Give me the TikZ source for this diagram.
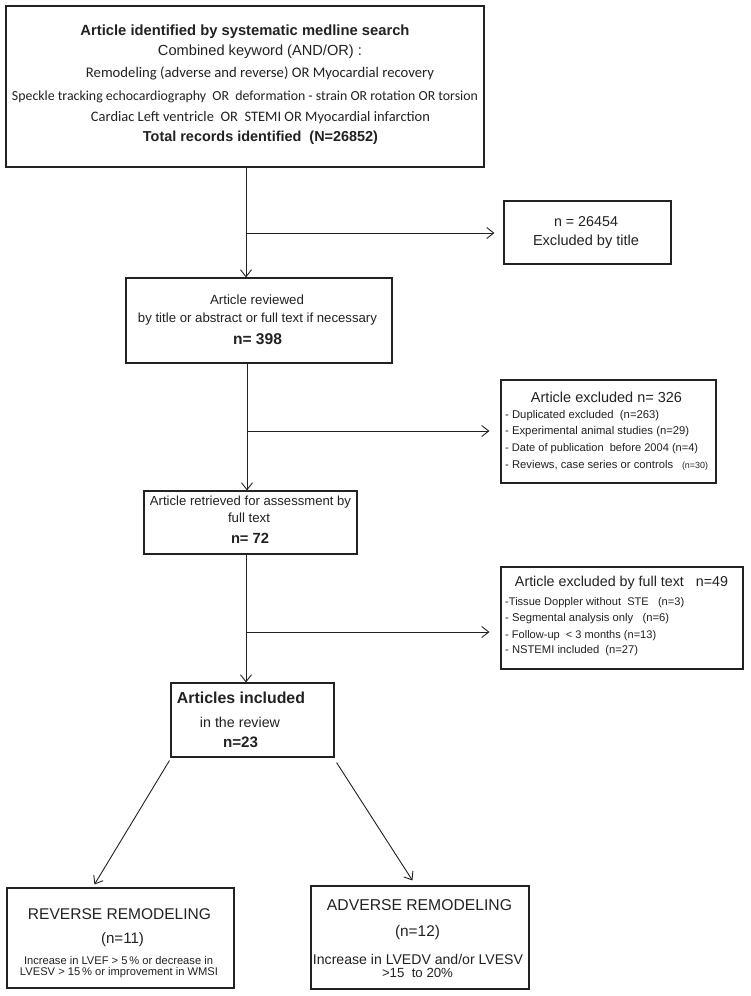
\documentclass[tikz,border=0pt]{standalone}
\usepackage{fontspec}
\usepackage{graphicx}
\setmainfont{Liberation Sans}
\newfontfamily\calib{Carlito}
\usetikzlibrary{arrows.meta}
\newcommand\fitw[2]{\resizebox{#1pt}{!}{#2}}
\definecolor{ink}{HTML}{222222}
\tikzset{
  box/.style={draw=ink, line width=1.1pt, rectangle, inner sep=0pt},
  txt/.style={inner sep=0pt, text=ink},
  arr/.style={draw=ink, line width=0.9pt, -{Straight Barb[length=7pt,width=11pt,line width=0.9pt]}},
}
\begin{document}
\begin{tikzpicture}[x=1pt,y=-1pt]
\useasboundingbox[fill=white] (0,0) rectangle (750,996);

% boxes
\node[box, minimum width=478pt, minimum height=161pt] (top) at (245,86.5) {};
\node[box, minimum width=167pt, minimum height=63pt] (excl1) at (587.5,232.5) {};
\node[box, minimum width=266pt, minimum height=85pt] (rev) at (259,320.5) {};
\node[box, minimum width=215pt, minimum height=103pt] (excl2) at (608.5,431.5) {};
\node[box, minimum width=213pt, minimum height=63pt] (retr) at (250.5,522.5) {};
\node[box, minimum width=242pt, minimum height=102pt] (excl3) at (622,618) {};
\node[box, minimum width=163pt, minimum height=74pt] (incl) at (252.5,720) {};
\node[box, minimum width=227pt, minimum height=100pt] (revrem) at (120.5,938) {};
\node[box, minimum width=218pt, minimum height=103pt] (advrem) at (420,937.5) {};

% top box text
\node[txt] (t1a) at (245,32) {\fitw{329}{\bfseries Article identified by systematic medline search}};
\node[txt] (t1b) at (260,52) {\fitw{204}{Combined keyword (AND/OR) :}};
\node[txt] (t1c) at (260,73) {\fitw{348}{\calib Remodeling (adverse and reverse) OR Myocardial recovery}};
\node[txt] (t1d) at (245,97) {\fitw{466}{\calib Speckle tracking echocardiography\ \ OR\ \ deformation - strain OR rotation OR torsion}};
\node[txt] (t1e) at (260.5,118) {\fitw{339}{\calib Cardiac Left ventricle\ \ OR\ \ STEMI OR Myocardial infarction}};
\node[txt] (t1f) at (260.5,138) {\fitw{235}{\bfseries Total records identified\ \ (N=26852)}};

% excluded by title
\node[txt] (t2a) at (586,222) {\fitw{64}{n = 26454}};
\node[txt] (t2b) at (586,242) {\fitw{106}{Excluded by title}};

% reviewed
\node[txt] (t3a) at (257,300) {\fitw{94}{Article reviewed}};
\node[txt] (t3b) at (257.5,319) {\fitw{239}{by title or abstract or full text if necessary}};
\node[txt] (t3c) at (257.5,339) {\fitw{49}{\bfseries n= 398}};

% excluded 326
\node[txt] (t4a) at (606.5,397) {\fitw{151}{Article excluded n= 326}};
\node[txt, anchor=west] (t4b) at (505,416) {\fitw{154}{- Duplicated excluded\ \ (n=263)}};
\node[txt, anchor=west] (t4c) at (505,432) {\fitw{184}{- Experimental animal studies (n=29)}};
\node[txt, anchor=west] (t4d) at (505,449) {\fitw{193}{- Date of publication\ \ before 2004 (n=4)}};
\node[txt, anchor=west] (t4e) at (505,465) {\fitw{168}{- Reviews, case series or controls}};
\node[txt] (t4f) at (695,466) {\fitw{26}{(n=30)}};

% retrieved
\node[txt] (t5a) at (250.5,502) {\fitw{201}{Article retrieved for assessment by}};
\node[txt] (t5b) at (249,518) {\fitw{42}{full text}};
\node[txt] (t5c) at (250,538) {\fitw{38}{\bfseries n= 72}};

% excluded by full text
\node[txt] (t6a) at (621.5,583) {\fitw{213}{Article excluded by full text\ \ \ n=49}};
\node[txt, anchor=west] (t6b) at (505,603) {\fitw{179}{-Tissue Doppler without\ \ STE\ \ \ (n=3)}};
\node[txt, anchor=west] (t6c) at (505,619) {\fitw{164}{- Segmental analysis only\ \ \ (n=6)}};
\node[txt, anchor=west] (t6d) at (505,636) {\fitw{151}{- Follow-up\ \ < 3 months (n=13)}};
\node[txt, anchor=west] (t6e) at (505,651) {\fitw{133}{- NSTEMI included\ \ (n=27)}};

% included
\node[txt] (t7a) at (241,698) {\fitw{128}{\bfseries Articles included}};
\node[txt] (t7b) at (240,722) {\fitw{80}{in the review}};
\node[txt] (t7c) at (240.5,742) {\fitw{35}{\bfseries n=23}};

% reverse remodeling
\node[txt] (t8a) at (119.5,914) {\fitw{183}{REVERSE REMODELING}};
\node[txt] (t8b) at (122.5,940) {\fitw{43}{(n=11)}};
\node[txt] (t8c) at (118.5,961) {\fitw{189}{Increase in LVEF > 5\,\% or decrease in}};
\node[txt] (t8d) at (119,973) {\fitw{198}{LVESV > 15\,\% or improvement in WMSI}};

% adverse remodeling
\node[txt] (t9a) at (419.5,905) {\fitw{185}{ADVERSE REMODELING}};
\node[txt] (t9b) at (417.5,932) {\fitw{45}{(n=12)}};
\node[txt] (t9c) at (418,959) {\fitw{210}{Increase in LVEDV and/or LVESV}};
\node[txt] (t9d) at (417.5,973) {\fitw{71}{>15\ \ to 20\%}};

% connectors
\coordinate (j1) at (246,233);
\coordinate (j2) at (247,431);
\coordinate (j3) at (246,632);
\draw[arr] (top.south -| j1) -- (rev.north -| j1);
\draw[arr, shorten >=9pt] (j1) -- (excl1.west |- j1);
\draw[arr] (rev.south -| j2) -- (retr.north -| j2);
\draw[arr, shorten >=11pt] (j2) -- (excl2.west |- j2);
\draw[arr] (retr.south -| j3) -- (incl.north -| j3);
\draw[arr, shorten >=11pt] (j3) -- (excl3.west |- j3);
\draw[arr] ([shift={(-1,3)}]incl.south west) -- ([shift={(88,-3)}]revrem.north west);
\draw[arr] ([shift={(2,5)}]incl.south east) -- ([shift={(102,-5)}]advrem.north west);
\end{tikzpicture}
\end{document}
